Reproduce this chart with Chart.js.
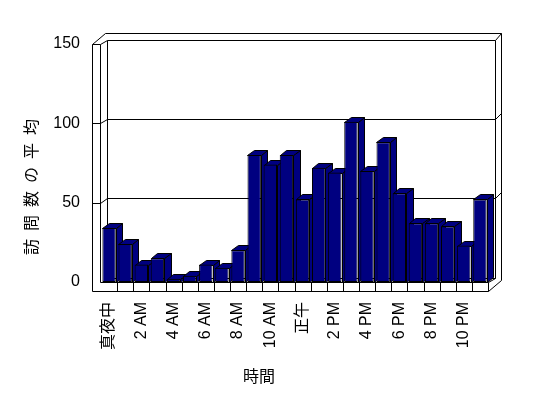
<!DOCTYPE html>
<html>
<head>
<meta charset="utf-8">
<script src="https://cdn.jsdelivr.net/npm/chart.js@4.4.1/dist/chart.umd.min.js"></script>
<style>
  body { margin: 0; background: #fff; }
</style>
</head>
<body>
<canvas id="hours_bar" width="548" height="398"></canvas>
<script>
var hours = ['真夜中', '1 AM', '2 AM', '3 AM', '4 AM', '5 AM', '6 AM', '7 AM', '8 AM', '9 AM', '10 AM', '11 AM',
             '正午', '1 PM', '2 PM', '3 PM', '4 PM', '5 PM', '6 PM', '7 PM', '8 PM', '9 PM', '10 PM', '11 PM'];
var visits = [34, 24, 11, 15, 2, 4, 11, 9, 20, 80, 74, 80,
              52, 72, 69, 101, 70, 88, 56, 37, 37, 35, 23, 52];
var yTicks = [0, 50, 100, 150];
var yTitle = '訪問数の平均';
var xTitle = '時間';

var navy = '#000080';
var latin = "'Liberation Sans', 'Noto Sans CJK JP', sans-serif";
var cjk = "'Noto Sans CJK JP', sans-serif";

// fake excel-style 3d: walls, floor, bar tops and sides
var depth3d = {
  id: 'depth3d',
  beforeDatasetsDraw: function(chart) {
    var ctx = chart.ctx, xs = chart.scales.x, ys = chart.scales.y;
    var L = xs.left, R = xs.right;
    var T = ys.getPixelForValue(yTicks[yTicks.length - 1]), B = ys.getPixelForValue(0);
    var L0 = L - 9, L1 = L - 1.3, FB = B + 9;
    var wx = 7, wy = -4.5, ox = 13.4, oy = -10.8;
    var p = function(v) { return Math.round(v) + 0.5; };

    function path(pts, fill) {
      ctx.beginPath();
      ctx.moveTo(p(pts[0][0]), p(pts[0][1]));
      for (var i = 1; i < pts.length; i++) ctx.lineTo(p(pts[i][0]), p(pts[i][1]));
      if (fill) { ctx.closePath(); ctx.fillStyle = fill; ctx.fill(); }
      ctx.stroke();
    }

    ctx.save();
    ctx.strokeStyle = '#000';
    ctx.lineWidth = 1;

    // outer outline
    path([[L0, FB], [L0, T], [L0 + ox, T + oy], [R + ox, T + oy], [R + ox, FB + oy], [R, FB], [L0, FB]]);
    // left wall front + inner corner
    path([[L0, T], [L1, T], [L1, B]]);
    path([[L1, T], [L1 + wx, T + wy], [R + wx, T + wy], [R + ox, T + oy]]);
    path([[R + wx, T + wy], [R + wx, B + wy], [R, B]]);
    path([[L1 + wx, T + wy], [L1 + wx, B + wy], [R + wx, B + wy]]);
    // floor
    path([[L1, B], [R, B], [R, FB]]);
    var cw = (R - L) / hours.length;
    for (var i = 1; i < hours.length; i++) {
      path([[L + i * cw, B], [L + i * cw, FB]]);
    }
    // gridlines
    yTicks.forEach(function(v) {
      if (v === 0 || v === yTicks[yTicks.length - 1]) return;
      var y = ys.getPixelForValue(v);
      path([[L0, y], [L1, y], [L1 + wx, y + wy], [R + wx, y + wy], [R + ox, y + oy]]);
    });

    // bar sides and tops
    var bx = 6.5, by = -5;
    chart.getDatasetMeta(0).data.forEach(function(bar) {
      var l = bar.x - bar.width / 2, r = bar.x + bar.width / 2, t = bar.y, b = bar.base;
      path([[r, b], [r, t], [r + bx, t + by], [r + bx, b + by]], navy);
      path([[l, t], [r, t], [r + bx, t + by], [l + bx, t + by]], navy);
    });
    ctx.restore();
  },
  afterDraw: function(chart) {
    var ctx = chart.ctx;
    ctx.save();
    ctx.fillStyle = '#000';
    ctx.font = '16px ' + cjk;
    ctx.textAlign = 'center';
    ctx.textBaseline = 'middle';
    ctx.fillText(xTitle, 259, 376);
    ctx.translate(31, 187);
    ctx.rotate(-Math.PI / 2);
    ctx.letterSpacing = '8px';
    ctx.fillText(yTitle, 4, 0);
    ctx.restore();
  }
};

var barChart = new Chart(document.getElementById('hours_bar'), {
  type: 'bar',
  data: {
    labels: hours,
    datasets: [{
      data: visits,
      backgroundColor: navy,
      borderColor: '#000',
      borderWidth: 1,
      borderSkipped: false,
      categoryPercentage: 1,
      barPercentage: 0.83
    }]
  },
  options: {
    responsive: false,
    animation: false,
    events: [],
    layout: { padding: { top: 44, right: 60, left: 0, bottom: 0 } },
    plugins: { legend: { display: false }, tooltip: { enabled: false } },
    scales: {
      x: {
        grid: { display: false, drawTicks: false, tickLength: 0 },
        border: { display: false },
        afterFit: function(s) { s.height = 116; },
        ticks: {
          autoSkip: false,
          minRotation: 90,
          maxRotation: 90,
          padding: 20,
          color: '#000',
          font: { family: latin, size: 16 },
          callback: function(val, i) { return i % 2 === 0 ? this.getLabelForValue(val) : ''; }
        }
      },
      y: {
        min: 0,
        max: 150,
        grid: { display: false, drawTicks: false, tickLength: 0 },
        border: { display: false },
        afterFit: function(s) { s.width = 101; },
        ticks: {
          stepSize: 50,
          padding: 21,
          color: '#000',
          font: { family: latin, size: 16 }
        }
      }
    }
  },
  plugins: [depth3d]
});
</script>
</body>
</html>
